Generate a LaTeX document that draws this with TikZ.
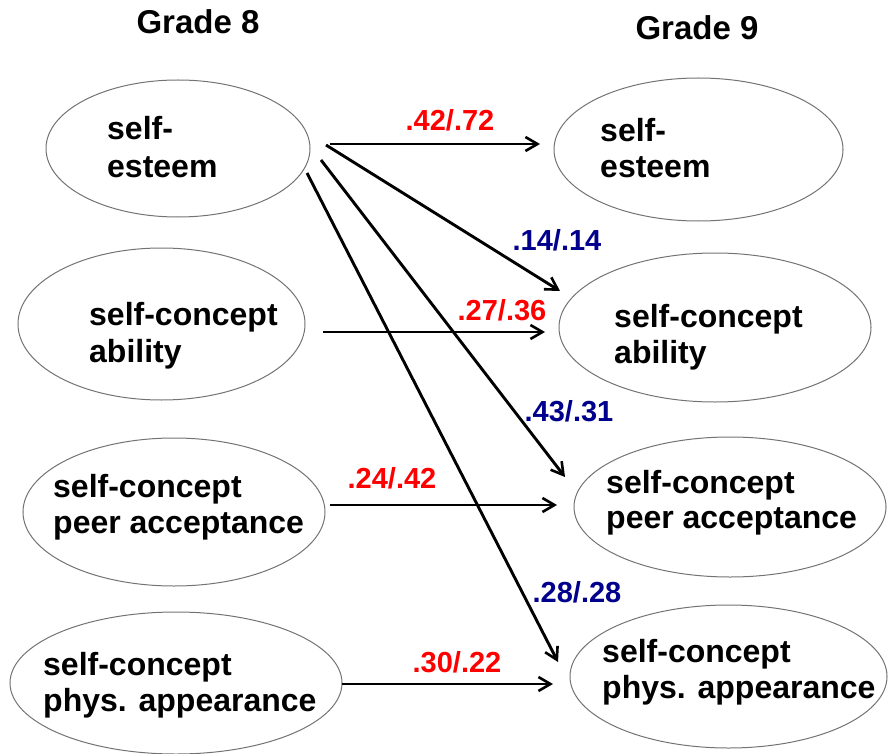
\documentclass[tikz,border=0pt]{standalone}
\usepackage{fontspec}
\setmainfont{Liberation Sans}
\usetikzlibrary{shapes.geometric,arrows.meta}
\definecolor{lblred}{RGB}{255,0,0}
\definecolor{lblblue}{RGB}{0,0,140}
\begin{document}
\begin{tikzpicture}[x=1pt,y=-1pt,
  latent/.style={ellipse, draw=black!55, line width=1pt, inner sep=0pt, outer sep=0pt},
  txt/.style={anchor=base west, inner sep=0pt, font=\fontsize{32}{38}\selectfont\bfseries},
  grade/.style={inner sep=0pt, font=\fontsize{33}{38}\selectfont\bfseries},
  coef/.style={inner sep=0pt, font=\fontsize{29}{34}\selectfont\bfseries},
  redcoef/.style={coef, text=lblred},
  bluecoef/.style={coef, text=lblblue},
  arr/.style={line width=2.9pt, -{Straight Barb[length=12pt,width=14pt,line width=2.6pt]}},
]
\useasboundingbox (0,0) rectangle (888,754);

% headings
\node[grade] (g8) at (198,22) {Grade 8};
\node[grade] (g9) at (697,28) {Grade 9};

% Grade 8 ellipses
\node[latent, minimum width=264pt, minimum height=137pt] (L1) at (178,148.5) {};
\node[latent, minimum width=287pt, minimum height=152pt] (L2) at (161.5,324) {};
\node[latent, minimum width=302pt, minimum height=148pt] (L3) at (174,512) {};
\node[latent, minimum width=332pt, minimum height=142pt] (L4) at (176,683) {};
% Grade 9 ellipses
\node[latent, minimum width=289pt, minimum height=143pt] (R1) at (698.5,149.5) {};
\node[latent, minimum width=312pt, minimum height=149pt] (R2) at (715,327.5) {};
\node[latent, minimum width=312pt, minimum height=140pt] (R3) at (730,507) {};
\node[latent, minimum width=317pt, minimum height=143pt] (R4) at (728.5,676.5) {};

% texts
\node[txt] (L1a) at (107,140) {self-};
\node[txt] (L1b) at (107,178) {esteem};
\node[txt] (L2a) at (89,325) {self-concept};
\node[txt] (L2b) at (89,362) {ability};
\node[txt] (L3a) at (53,497) {self-concept};
\node[txt] (L3b) at (53,533) {peer acceptance};
\node[txt] (L4a) at (43,675) {self-concept};
\node[txt] (L4b) at (43,711) {phys. appearance};

\node[txt] (R1a) at (600,142) {self-};
\node[txt] (R1b) at (600,178) {esteem};
\node[txt] (R2a) at (614,327) {self-concept};
\node[txt] (R2b) at (614,363) {ability};
\node[txt] (R3a) at (606,493) {self-concept};
\node[txt] (R3b) at (606,528) {peer acceptance};
\node[txt] (R4a) at (602,662) {self-concept};
\node[txt] (R4b) at (602,698) {phys. appearance};

% arrow end points
\coordinate (s1) at (330,144); \coordinate (e1) at (540,144);
\coordinate (s2) at (326,145); \coordinate (e2) at (560,291);
\coordinate (s3) at (321,160); \coordinate (e3) at (565,477);
\coordinate (s4) at (307,173); \coordinate (e4) at (558,662);
\coordinate (s5) at (323,332); \coordinate (e5) at (545,332);
\coordinate (s6) at (330,505); \coordinate (e6) at (557,505);
\coordinate (s7) at (342,684); \coordinate (e7) at (553,684);

\draw[arr] (s1) -- (e1);
\draw[arr] (s2) -- (e2);
\draw[arr] (s3) -- (e3);
\draw[arr] (s4) -- (e4);
\draw[arr] (s5) -- (e5);
\draw[arr] (s6) -- (e6);
\draw[arr] (s7) -- (e7);

% coefficients
\node[redcoef]  (c1) at (450,120) {.42/.72};
\node[bluecoef] (c2) at (557,240) {.14/.14};
\node[bluecoef] (c3) at (569,411) {.43/.31};
\node[bluecoef] (c4) at (577,592) {.28/.28};
\node[redcoef]  (c5) at (502,310) {.27/.36};
\node[redcoef]  (c6) at (392,478) {.24/.42};
\node[redcoef]  (c7) at (457,662) {.30/.22};
\end{tikzpicture}
\end{document}
